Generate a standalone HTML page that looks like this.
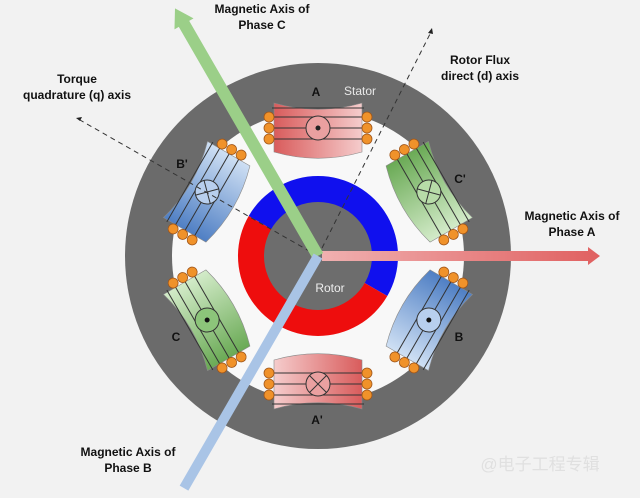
<!DOCTYPE html>
<html><head><meta charset="utf-8"><style>
html,body{margin:0;padding:0;background:#f2f2f2;width:640px;height:498px;overflow:hidden}
svg{display:block}
text{font-family:"Liberation Sans","Noto Sans CJK SC",sans-serif}
.lb{font-weight:bold;font-size:12px;fill:#111;text-anchor:middle}
</style></head><body>
<svg width="640" height="498" viewBox="0 0 640 498">
<defs>
<linearGradient id="gr" x1="0" x2="1"><stop offset="0" stop-color="#d95c5c"/><stop offset="1" stop-color="#f5cccc"/></linearGradient>
<linearGradient id="gb" x1="0" x2="1"><stop offset="0" stop-color="#4f7fc4"/><stop offset="1" stop-color="#cfe0f4"/></linearGradient>
<linearGradient id="gg" x1="0" x2="1"><stop offset="0" stop-color="#6aaa55"/><stop offset="1" stop-color="#d3ebc9"/></linearGradient>
<linearGradient id="ga" x1="0" x2="1"><stop offset="0" stop-color="#f0b0b0"/><stop offset="1" stop-color="#e06060"/></linearGradient>
<g id="coil">
<path d="M-44,-153 A160,160 0 0 0 44,-153 L44,-104 A160,160 0 0 1 -44,-104 Z" stroke="#8a8a8a" stroke-width="0.6"/>
<g stroke="#333" stroke-width="1"><line x1="-46" y1="-139" x2="46" y2="-139"/><line x1="-46" y1="-128" x2="46" y2="-128"/><line x1="-46" y1="-117" x2="46" y2="-117"/><line x1="-46" y1="-148" x2="46" y2="-148"/></g>
<g fill="#f0922a" stroke="#a0561a" stroke-width="0.8"><circle cx="-49" cy="-139" r="5"/><circle cx="-49" cy="-128" r="5"/><circle cx="-49" cy="-117" r="5"/><circle cx="49" cy="-139" r="5"/><circle cx="49" cy="-128" r="5"/><circle cx="49" cy="-117" r="5"/></g>
</g>
</defs>
<circle cx="318" cy="256" r="193" fill="#6b6b6b"/>
<circle cx="318" cy="256" r="146" fill="#f8f8f8"/>
<g transform="translate(318,256)">
<g fill="url(#gr)"><use href="#coil"/></g>
<circle cx="0" cy="-128" r="12" fill="#eaa0a0" stroke="#333"/><circle cx="0" cy="-128" r="2.5" fill="#222"/>
<g transform="rotate(180)" fill="url(#gr)"><use href="#coil"/><circle cx="0" cy="-128" r="12" fill="#eaa0a0" stroke="#333"/><path d="M-8.5,-136.5 L8.5,-119.5 M8.5,-136.5 L-8.5,-119.5" stroke="#333"/></g>
<g transform="rotate(60)" fill="url(#gg)"><use href="#coil"/><circle cx="0" cy="-128" r="12" fill="#b7dca8" stroke="#333"/><path d="M-8.5,-136.5 L8.5,-119.5 M8.5,-136.5 L-8.5,-119.5" stroke="#333"/></g>
<g transform="rotate(240)" fill="url(#gg)"><use href="#coil"/><circle cx="0" cy="-128" r="12" fill="#8cc57a" stroke="#333"/><circle cx="0" cy="-128" r="2.5" fill="#111"/></g>
<g transform="rotate(120)" fill="url(#gb)"><use href="#coil"/><circle cx="0" cy="-128" r="12" fill="#b8cfee" stroke="#333"/><circle cx="0" cy="-128" r="2.5" fill="#111"/></g>
<g transform="rotate(300)" fill="url(#gb)"><use href="#coil"/><circle cx="0" cy="-128" r="12" fill="#b8cfee" stroke="#333"/><path d="M-8.5,-136.5 L8.5,-119.5 M8.5,-136.5 L-8.5,-119.5" stroke="#333"/></g>
</g>
<g transform="translate(318,256)">
<path d="M-69.3,-40 A80,80 0 0 1 0,-80 A80,80 0 0 1 69.3,40 L0,0 Z" fill="#1010ee"/>
<path d="M69.3,40 A80,80 0 0 1 0,80 A80,80 0 0 1 -69.3,-40 L0,0 Z" fill="#ee0d0d"/>
<circle r="54" fill="#6d6d6d"/>
</g>
<g stroke="#333" stroke-width="1" stroke-dasharray="5,4" fill="none">
<line x1="318" y1="256" x2="431" y2="32"/>
<line x1="318" y1="256" x2="80" y2="120"/>
</g>
<path d="M432,28 l-4,5 l5,1 z" fill="#222"/>
<path d="M76,118 l6,-1 l-2,4 z" fill="#222"/>
<polygon points="322,251 588,251 588,247 600,256 588,265 588,261 322,261" fill="url(#ga)"/>
<g transform="translate(318,256) rotate(-120)"><polygon points="0,-6 268,-6 268,-11 286,0 268,11 268,6 0,6" fill="#9bcf88"/></g>
<g transform="translate(318,256) rotate(120)"><polygon points="0,-5 268,-5 268,5 0,5" fill="#a9c4e6"/></g>
<text x="316" y="96" class="lb">A</text>
<text x="360" y="95" font-size="12" fill="#e8e8e8" text-anchor="middle">Stator</text>
<text x="182" y="168" class="lb">B'</text>
<text x="460" y="183" class="lb">C'</text>
<text x="176" y="341" class="lb">C</text>
<text x="459" y="341" class="lb">B</text>
<text x="317" y="424" class="lb">A'</text>
<text x="330" y="292" font-size="12" fill="#eee" text-anchor="middle">Rotor</text>
<text x="262" y="13" class="lb">Magnetic Axis of</text>
<text x="262" y="29" class="lb">Phase C</text>
<text x="480" y="64" class="lb">Rotor Flux</text>
<text x="480" y="80" class="lb">direct (d) axis</text>
<text x="77" y="83" class="lb">Torque</text>
<text x="77" y="99" class="lb">quadrature (q) axis</text>
<text x="572" y="220" class="lb">Magnetic Axis of</text>
<text x="572" y="236" class="lb">Phase A</text>
<text x="128" y="456" class="lb">Magnetic Axis of</text>
<text x="128" y="472" class="lb">Phase B</text>
<text x="540" y="470" font-size="17" fill="#e0e0e0" text-anchor="middle">@电子工程专辑</text>
</svg>
</body></html>
